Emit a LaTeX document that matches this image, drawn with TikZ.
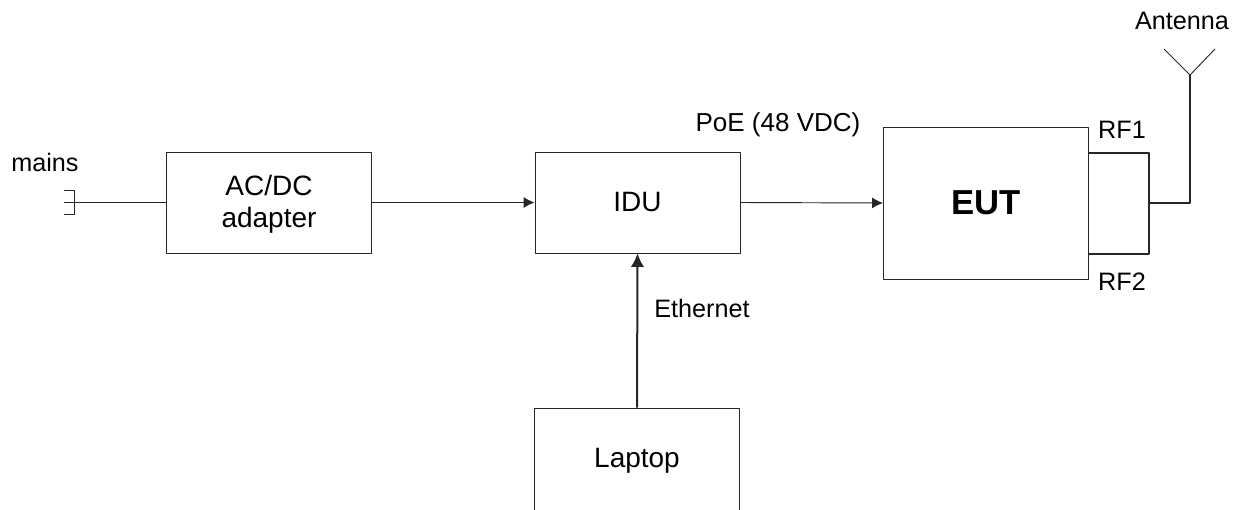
\documentclass[tikz,border=0pt]{standalone}
\usepackage{fontspec}
\setmainfont{Liberation Sans}
\usetikzlibrary{arrows.meta}
\begin{document}
\begin{tikzpicture}[x=0.75pt, y=-0.75pt, line join = round, line width=0.7pt, color=black!85,
	block/.style={draw, minimum width=153.75pt, minimum height=75.75pt, align=center, font=\fontsize{21}{24}\selectfont, text=black, inner sep=0pt, text depth=1pt},
	tag/.style={font=\fontsize{18.9}{22}\selectfont, text=black, inner sep=0pt},
	feed/.style={-{Latex[length=8.25pt, width=8.25pt]}}]
	\useasboundingbox (0,0) rectangle (1242,510);
	\node[block] (adapter) at (269,202.5) {AC/DC\\adapter};
	\node[block] (idu) at (637.5,202.5) {IDU};
	\node[block, minimum height=114pt, font=\fontsize{26}{30}\bfseries\selectfont] (eut) at (986,203) {EUT};
	\node[block, minimum height=76.5pt] (laptop) at (637,459) {Laptop};
	\coordinate (plugend) at (64,202);
	\coordinate (plugtop) at (64,190);
	\coordinate (plugbot) at (64,214);
	\coordinate (plugback) at (74,202);
	\coordinate (rf1) at (1088,153);
	\coordinate (rf2) at (1088,254);
	\coordinate (rfa) at (1149,153);
	\coordinate (rfb) at (1149,254);
	\coordinate (join) at (1149,203);
	\coordinate (apex) at (1190,75);
	\coordinate (armleft) at (1164,49);
	\coordinate (armright) at (1215,49);
	\draw (plugend) -- (adapter.west |- plugend);
	\draw (plugtop) -- (plugback |- plugtop) -- (plugback |- plugbot) -- (plugbot);
	\draw[feed] (adapter.east) -- (idu.west);
	\draw[feed] (idu.east) -- (eut.west);
	\draw[-{Latex[length=10pt, width=10pt]}, line width=1.5pt] (laptop.north) -- (idu.south);
	\draw[line width=1pt] (rf1) -- (rfa) -- (rfb) -- (rf2);
	\draw[line width=1pt] (join) -- (apex |- join) -- (apex);
	\draw (armleft) -- (apex) -- (armright);
	\node[tag] (mains) at (45,162) {mains};
	\node[tag, font=\fontsize{19.5}{22}\selectfont] (poe) at (778,125) {PoE (48 VDC)};
	\node[tag] (ethernet) at (702,308.5) {Ethernet};
	\node[tag] (rfone) at (1122,130) {RF1};
	\node[tag] (rftwo) at (1122,282) {RF2};
	\node[tag] (antenna) at (1182,21) {Antenna};
\end{tikzpicture}
\end{document}
